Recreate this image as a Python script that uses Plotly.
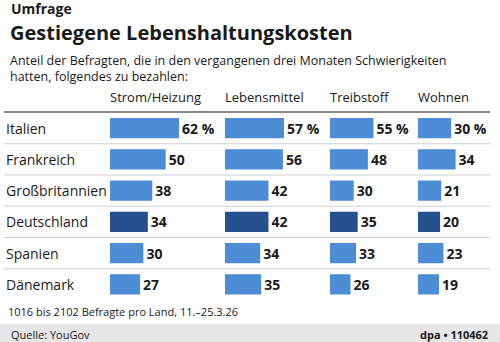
import plotly.graph_objects as go

# Survey: share of respondents who had difficulty paying in the last three months
countries = ["Italien", "Frankreich", "Großbritannien", "Deutschland", "Spanien", "Dänemark"]
categories = ["Strom/Heizung", "Lebensmittel", "Treibstoff", "Wohnen"]
strom = [62, 50, 38, 34, 30, 27]
lebensmittel = [57, 56, 42, 42, 34, 35]
treibstoff = [55, 48, 30, 35, 33, 26]
wohnen = [30, 34, 21, 20, 23, 19]
series = [strom, lebensmittel, treibstoff, wohnen]
highlight = "Deutschland"

W, H = 500, 342
LIGHT = "#4d8dd6"
DARK = "#27508f"
TEXT = "#1a1a1a"
FONT = "Open Sans"


def px(x):
    return x / W


def py(y):
    return 1 - y / H


# each column: left edge (px), right edge (px), pixels per percentage point
columns = [(110, 210, 1.113), (225, 325, 1.035), (330, 410, 0.79), (418, 490, 1.105)]
plot_top, plot_bottom = 112.5, 300

fig = go.Figure()
for i, (vals, (x0, x1, scale)) in enumerate(zip(series, columns)):
    axis = "x" if i == 0 else f"x{i + 1}"
    labels = [f"{v} %" if j == 0 else f"{v}" for j, v in enumerate(vals)]
    fig.add_trace(go.Bar(
        x=vals, y=countries, orientation="h",
        xaxis=axis, yaxis="y",
        marker=dict(color=[DARK if c == highlight else LIGHT for c in countries], line=dict(width=0)),
        width=0.65,
        text=labels, textposition="outside", cliponaxis=False,
        textfont=dict(family=FONT, size=14, color=TEXT, weight="bold"),
        hoverinfo="skip", showlegend=False,
    ))
    key = "xaxis" if i == 0 else f"xaxis{i + 1}"
    fig.layout[key] = dict(
        domain=[px(x0), px(x1)], range=[0, (x1 - x0) / scale],
        visible=False, anchor="y", fixedrange=True,
    )

fig.update_layout(
    width=W, height=H,
    margin=dict(l=0, r=0, t=0, b=0),
    paper_bgcolor="white", plot_bgcolor="rgba(0,0,0,0)",
    yaxis=dict(domain=[py(plot_bottom), py(plot_top)], range=[len(countries) - 0.5, -0.5],
               visible=False, type="category", categoryarray=countries),
    font=dict(family=FONT, color=TEXT),
)

shapes = []
# top rule under the column headers
shapes.append(dict(type="line", xref="paper", yref="paper", x0=px(4), x1=px(490),
                   y0=py(112), y1=py(112), line=dict(color="#8a8a8a", width=2)))
# row separators
for k in range(len(countries) - 1):
    shapes.append(dict(type="line", xref="paper", yref="y", x0=px(4), x1=px(490),
                       y0=k + 0.5, y1=k + 0.5, line=dict(color="#cfcfcf", width=1)))
# footer band
shapes.append(dict(type="rect", xref="paper", yref="paper", x0=0, x1=1,
                   y0=0, y1=py(324), fillcolor="#e7e7e7", line=dict(width=0), layer="below"))
fig.update_layout(shapes=shapes)

ann = []


def text(x, y, s, size, bold=False, anchor="left"):
    ann.append(dict(x=px(x), y=py(y), xref="paper", yref="paper", text=s, showarrow=False,
                    xanchor=anchor, yanchor="middle", borderpad=0,
                    font=dict(family=FONT, size=size, color=TEXT, weight="bold" if bold else "normal")))


text(10, 9, "Umfrage", 14, bold=True)
text(9, 33, "Gestiegene Lebenshaltungskosten", 20, bold=True)
text(9, 60, "Anteil der Befragten, die in den vergangenen drei Monaten Schwierigkeiten", 12.5)
text(9, 77, "hatten, folgendes zu bezahlen:", 12.5)
for c, (x0, _, _) in zip(categories, columns):
    text(x0 - 1, 97, c, 13)
for j, c in enumerate(countries):
    ann.append(dict(x=px(5), y=c, xref="paper", yref="y", text=c, showarrow=False,
                    xanchor="left", yanchor="middle", borderpad=0,
                    font=dict(family=FONT, size=14, color=TEXT)))
text(7, 311, "1016 bis 2102 Befragte pro Land, 11.–25.3.26", 11)
text(10, 334, "Quelle: YouGov", 11)
text(489, 334, "dpa • 110462", 11, bold=True, anchor="right")
fig.update_layout(annotations=ann)

fig.write_html("out.html")
